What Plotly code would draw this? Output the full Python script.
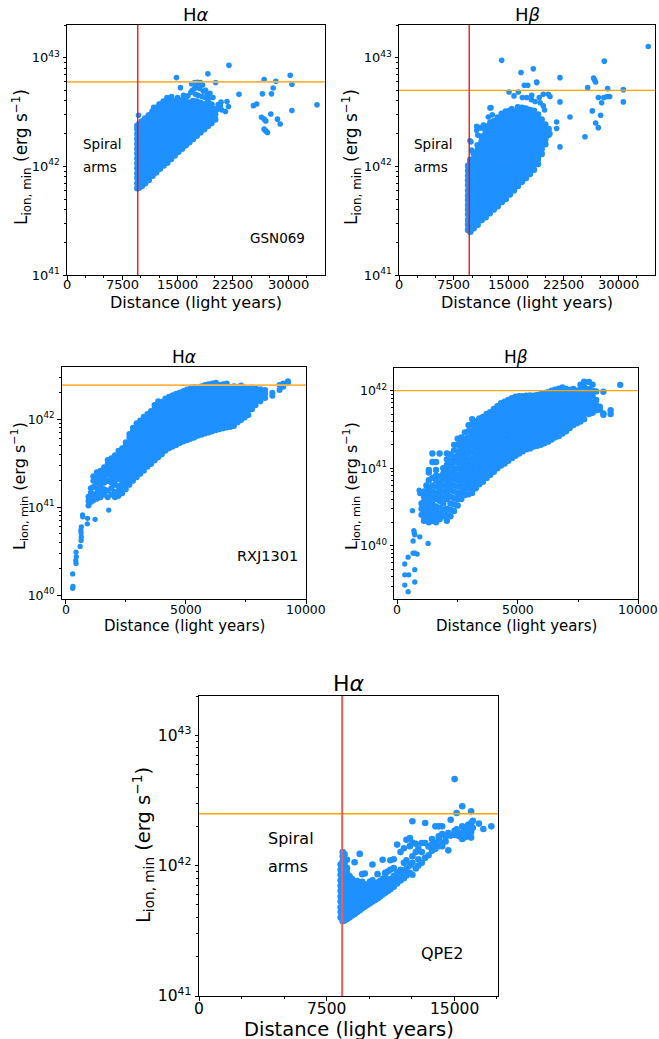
import plotly.graph_objects as go

W, H = 659, 1039
FONT = "DejaVu Sans"
BLUE = "#1E90FF"

# ---------------------------------------------------------------------------
# Data. Distances in light years, luminosities in units of 1e42 erg/s.
# Dense regions are stored column by column (one distance, several values).
# ---------------------------------------------------------------------------

# GSN069, H-alpha
GSN069_HA_COL_X = [9550, 9800, 10150, 10600, 11100, 11600, 12100, 12600, 13100, 13600, 14100, 14600,
                   15100, 15600, 16100, 16600, 17100, 17600, 18100, 18600, 19100, 19600, 20100]
GSN069_HA_COL_L = [
    [0.63, 0.70, 0.78, 0.86, 0.96, 1.06, 1.18, 1.31, 1.45, 1.61, 1.79, 1.98, 2.20, 2.36],
    [0.64, 0.72, 0.80, 0.89, 0.99, 1.10, 1.22, 1.36, 1.51, 1.68, 1.86, 2.07, 2.30, 2.45],
    [0.66, 0.73, 0.81, 0.90, 1.00, 1.11, 1.23, 1.37, 1.52, 1.69, 1.87, 2.08, 2.30, 2.58],
    [0.70, 0.78, 0.86, 0.96, 1.06, 1.18, 1.31, 1.45, 1.61, 1.79, 1.98, 2.20, 2.45, 2.75],
    [0.75, 0.83, 0.92, 1.02, 1.14, 1.26, 1.40, 1.55, 1.72, 1.91, 2.12, 2.36, 2.62, 2.95],
    [0.82, 0.91, 1.01, 1.12, 1.24, 1.38, 1.53, 1.70, 1.89, 2.10, 2.33, 2.58, 2.87, 3.20],
    [0.88, 0.98, 1.09, 1.21, 1.34, 1.49, 1.65, 1.83, 2.03, 2.26, 2.50, 2.78, 3.08, 3.45],
    [0.95, 1.05, 1.17, 1.30, 1.44, 1.60, 1.78, 1.97, 2.19, 2.43, 2.70, 3.00, 3.33, 3.70],
    [1.02, 1.13, 1.26, 1.40, 1.55, 1.72, 1.91, 2.12, 2.35, 2.61, 2.90, 3.22, 3.58, 3.95],
    [1.08, 1.20, 1.33, 1.48, 1.64, 1.82, 2.02, 2.24, 2.49, 2.76, 3.07, 3.40, 3.78, 4.10],
    [1.17, 1.30, 1.44, 1.60, 1.78, 1.97, 2.19, 2.43, 2.70, 3.00, 3.33, 3.70, 4.10],
    [1.26, 1.40, 1.55, 1.72, 1.91, 2.12, 2.35, 2.61, 2.90, 3.22, 3.58, 4.00],
    [1.36, 1.51, 1.68, 1.86, 2.06, 2.29, 2.54, 2.82, 3.13, 3.48, 3.90],
    [1.45, 1.61, 1.79, 1.98, 2.20, 2.44, 2.71, 3.01, 3.34, 3.70, 4.05],
    [1.56, 1.73, 1.92, 2.13, 2.37, 2.63, 2.92, 3.24, 3.60, 4.00],
    [1.67, 1.85, 2.06, 2.28, 2.53, 2.81, 3.12, 3.46, 3.85],
    [1.79, 1.99, 2.20, 2.45, 2.72, 3.02, 3.35, 3.72, 4.00],
    [1.91, 2.12, 2.35, 2.61, 2.90, 3.22, 3.57, 3.95],
    [2.05, 2.28, 2.53, 2.80, 3.11, 3.45, 3.85],
    [2.20, 2.44, 2.71, 3.00, 3.33, 3.70],
    [2.35, 2.60, 2.90, 3.20, 3.55, 3.85],
    [2.50, 2.78, 3.08, 3.42, 3.70],
    [2.70, 3.00, 3.35],
]
GSN069_HA_X = [9700, 11760, 12500, 13570, 14200, 14850, 15000, 15390, 15800, 16400, 16800, 16900,
               17300, 17700, 18100, 17500, 18000, 18500, 17000, 17400, 17800, 18300, 18700, 19000,
               18400, 17900, 17300, 18800, 19200, 19110, 19400, 19800, 20160, 20500, 20300, 20900,
               21000, 21700, 21900, 21500, 20800, 21970, 23330, 25290, 25740, 26380, 26740, 26970,
               26740, 26970, 27200, 26740, 26510, 27650, 28330, 27970, 27740, 28550, 28920, 30280,
               30510, 30510, 33910]
GSN069_HA_L = [2.95, 3.50, 3.75, 4.30, 4.40, 6.56, 4.30, 5.30, 4.50, 4.45, 4.80, 5.75,
               5.90, 5.95, 5.90, 5.50, 5.20, 4.90, 5.00, 4.60, 4.50, 4.40, 4.30, 4.50,
               5.60, 5.40, 5.20, 5.00, 4.20, 7.10, 4.70, 4.30, 5.90, 3.70, 3.30, 3.90,
               3.30, 3.95, 3.55, 3.20, 3.60, 8.50, 4.60, 3.62, 3.75, 2.83, 2.72, 2.62,
               2.20, 2.12, 2.05, 6.30, 4.65, 3.03, 6.07, 5.26, 4.65, 2.72, 2.45, 6.90,
               5.70, 3.26, 3.68]

# GSN069, H-beta
GSN069_HB_COL_X = [9450, 9750, 10200, 10750, 11300, 11850, 12400, 12950, 13500, 14050, 14600,
                   15150, 15700, 16250, 16800, 17350, 17900, 18450, 19000, 19500, 20000, 20450]
GSN069_HB_COL_L = [
    [0.26, 0.29, 0.32, 0.36, 0.40, 0.44, 0.49, 0.54, 0.60, 0.67, 0.74, 0.82, 0.91, 1.01],
    [0.25, 0.28, 0.31, 0.34, 0.38, 0.42, 0.47, 0.52, 0.58, 0.64, 0.71, 0.79, 0.88, 0.98, 1.08, 1.15],
    [0.27, 0.30, 0.33, 0.37, 0.41, 0.46, 0.51, 0.56, 0.63, 0.69, 0.77, 0.86, 0.95, 1.05, 1.17, 1.32],
    [0.29, 0.32, 0.36, 0.40, 0.44, 0.49, 0.55, 0.61, 0.67, 0.75, 0.83, 0.92, 1.02, 1.13, 1.26, 1.40, 1.56],
    [0.32, 0.35, 0.39, 0.44, 0.48, 0.54, 0.60, 0.66, 0.74, 0.82, 0.91, 1.01, 1.12, 1.24, 1.38, 1.53,
     1.70, 1.88],
    [0.34, 0.38, 0.42, 0.46, 0.52, 0.57, 0.63, 0.70, 0.78, 0.87, 0.96, 1.07, 1.19, 1.32, 1.46, 1.62,
     1.80, 2.00, 2.15],
    [0.37, 0.41, 0.45, 0.50, 0.56, 0.62, 0.69, 0.76, 0.85, 0.94, 1.04, 1.16, 1.29, 1.43, 1.58, 1.76,
     1.95, 2.17, 2.40],
    [0.40, 0.44, 0.49, 0.54, 0.60, 0.67, 0.74, 0.82, 0.91, 1.01, 1.12, 1.25, 1.38, 1.54, 1.70, 1.89,
     2.10, 2.33, 2.60],
    [0.43, 0.48, 0.53, 0.59, 0.65, 0.72, 0.80, 0.89, 0.99, 1.10, 1.22, 1.35, 1.50, 1.67, 1.85, 2.05,
     2.28, 2.53, 2.82],
    [0.47, 0.52, 0.58, 0.64, 0.71, 0.79, 0.88, 0.97, 1.08, 1.20, 1.33, 1.48, 1.64, 1.82, 2.02, 2.24,
     2.49, 2.76, 3.05],
    [0.50, 0.56, 0.62, 0.69, 0.76, 0.85, 0.94, 1.04, 1.16, 1.29, 1.43, 1.58, 1.76, 1.95, 2.17, 2.40,
     2.67, 2.96, 3.20],
    [0.55, 0.61, 0.68, 0.75, 0.83, 0.92, 1.03, 1.14, 1.26, 1.40, 1.56, 1.73, 1.92, 2.13, 2.36, 2.62,
     2.91, 3.25],
    [0.60, 0.67, 0.74, 0.82, 0.91, 1.01, 1.12, 1.25, 1.38, 1.54, 1.71, 1.89, 2.10, 2.33, 2.59, 2.87, 3.20],
    [0.66, 0.73, 0.81, 0.90, 1.00, 1.11, 1.23, 1.37, 1.52, 1.68, 1.87, 2.08, 2.30, 2.56, 2.84, 3.15, 3.50],
    [0.72, 0.80, 0.89, 0.98, 1.09, 1.21, 1.35, 1.49, 1.66, 1.84, 2.04, 2.27, 2.52, 2.79, 3.10, 3.45],
    [0.78, 0.87, 0.96, 1.07, 1.19, 1.32, 1.46, 1.62, 1.80, 2.00, 2.22, 2.47, 2.74, 3.04, 3.40],
    [0.85, 0.94, 1.05, 1.16, 1.29, 1.43, 1.59, 1.77, 1.96, 2.18, 2.42, 2.68, 2.98, 3.30],
    [0.93, 1.03, 1.15, 1.27, 1.41, 1.57, 1.74, 1.93, 2.14, 2.38, 2.64, 2.93, 3.25],
    [1.05, 1.17, 1.30, 1.44, 1.60, 1.78, 1.97, 2.19, 2.43, 2.70, 3.00],
    [1.30, 1.44, 1.60, 1.78, 1.97, 2.19, 2.43, 2.70],
    [1.60, 1.78, 1.97, 2.19, 2.43],
    [1.95, 2.20],
]
GSN069_HB_X = [9706, 9843, 9940, 10617, 11200, 11528, 11985, 12440, 10620, 10757, 11074, 11662,
               12213, 12440, 12576, 12760, 14041, 14724, 15408, 15040, 16316, 15723, 16860, 17460,
               18140, 17133, 17590, 18822, 16680, 18363, 19180, 19730, 18819, 18100, 18600, 19300,
               19730, 19900, 20414, 20642, 20642, 21553, 21553, 22009, 22009, 22009, 23376, 25426,
               25791, 26429, 26600, 26750, 26880, 26885, 27248, 27567, 28069, 27250, 27700, 28000,
               28450, 28800, 28524, 30666, 30666, 34084]
GSN069_HB_L = [1.72, 1.68, 1.41, 2.34, 2.25, 2.40, 2.28, 2.56, 2.15, 1.94, 2.28, 2.39,
               2.85, 3.45, 3.47, 2.98, 9.45, 3.17, 3.40, 4.83, 4.83, 4.45, 4.30, 4.30,
               4.50, 5.57, 5.57, 5.90, 7.30, 7.90, 4.30, 4.60, 5.97, 4.10, 3.95, 3.85,
               3.60, 3.30, 4.60, 4.40, 2.00, 2.56, 2.23, 6.55, 3.92, 1.51, 2.85, 1.87,
               5.30, 3.24, 6.50, 6.20, 5.97, 2.51, 2.27, 2.95, 9.30, 4.30, 3.84, 4.30,
               4.40, 4.40, 5.19, 5.08, 3.92, 12.70]

# RXJ1301, H-alpha
RXJ1301_HA_COL_X = [950, 1050, 1150, 1300, 1450, 1600, 1750, 1900, 2050, 2200, 2350, 2500, 2650,
                    2800, 2950, 3100, 3250, 3400, 3550, 3700, 3850, 4000, 4150, 4300, 4450, 4600,
                    4750, 4900, 5050, 5200, 5350, 5500, 5650, 5800, 5950, 6100, 6250, 6400, 6550,
                    6700, 6850, 7000, 7150, 7300, 7450, 7600, 7750, 7900, 8100, 8300, 8600, 8900,
                    9050, 9250]
RXJ1301_HA_COL_L = [
    [0.105, 0.118, 0.132],
    [0.115, 0.130, 0.146, 0.165],
    [0.120, 0.140, 0.170, 0.200, 0.225],
    [0.125, 0.145, 0.165, 0.190, 0.215, 0.250],
    [0.130, 0.150, 0.175, 0.200, 0.230, 0.260],
    [0.140, 0.160, 0.190, 0.220, 0.250, 0.285],
    [0.130, 0.155, 0.200, 0.235, 0.270, 0.310, 0.345],
    [0.140, 0.165, 0.190, 0.215, 0.245, 0.280, 0.320, 0.360],
    [0.130, 0.150, 0.180, 0.200, 0.230, 0.260, 0.300, 0.340, 0.390],
    [0.135, 0.155, 0.175, 0.210, 0.240, 0.270, 0.310, 0.350, 0.400, 0.440],
    [0.145, 0.165, 0.190, 0.220, 0.250, 0.280, 0.320, 0.360, 0.410, 0.470],
    [0.160, 0.180, 0.205, 0.230, 0.260, 0.300, 0.340, 0.390, 0.440, 0.500, 0.550],
    [0.180, 0.200, 0.230, 0.260, 0.290, 0.330, 0.380, 0.430, 0.480, 0.540, 0.620, 0.680],
    [0.200, 0.225, 0.250, 0.280, 0.320, 0.360, 0.410, 0.460, 0.520, 0.580, 0.660, 0.740, 0.800],
    [0.220, 0.250, 0.280, 0.310, 0.350, 0.400, 0.450, 0.500, 0.570, 0.640, 0.720, 0.810, 0.900],
    [0.240, 0.270, 0.300, 0.340, 0.380, 0.430, 0.480, 0.540, 0.610, 0.680, 0.770, 0.860, 0.970],
    [0.260, 0.290, 0.330, 0.370, 0.420, 0.470, 0.530, 0.600, 0.670, 0.750, 0.840, 0.950, 1.070],
    [0.290, 0.320, 0.360, 0.400, 0.450, 0.510, 0.570, 0.640, 0.720, 0.810, 0.910, 1.020, 1.150],
    [0.310, 0.350, 0.390, 0.440, 0.490, 0.550, 0.620, 0.700, 0.780, 0.880, 0.990, 1.100, 1.240],
    [0.340, 0.380, 0.420, 0.470, 0.530, 0.600, 0.670, 0.750, 0.840, 0.950, 1.060, 1.190, 1.330, 1.450],
    [0.370, 0.410, 0.460, 0.520, 0.580, 0.650, 0.730, 0.820, 0.920, 1.030, 1.160, 1.300, 1.460, 1.600],
    [0.400, 0.450, 0.500, 0.560, 0.630, 0.710, 0.790, 0.890, 1.000, 1.120, 1.260, 1.410, 1.580],
    [0.440, 0.490, 0.550, 0.620, 0.690, 0.780, 0.870, 0.980, 1.100, 1.230, 1.380, 1.550, 1.720],
    [0.470, 0.530, 0.590, 0.660, 0.740, 0.830, 0.930, 1.050, 1.170, 1.310, 1.470, 1.650, 1.800],
    [0.490, 0.550, 0.620, 0.690, 0.780, 0.870, 0.980, 1.100, 1.230, 1.380, 1.550, 1.730, 1.880],
    [0.510, 0.570, 0.640, 0.720, 0.810, 0.910, 1.020, 1.140, 1.280, 1.440, 1.610, 1.800, 1.950],
    [0.540, 0.600, 0.670, 0.750, 0.840, 0.950, 1.060, 1.190, 1.340, 1.500, 1.680, 1.880, 2.020],
    [0.560, 0.630, 0.700, 0.790, 0.880, 0.990, 1.110, 1.250, 1.400, 1.570, 1.760, 1.970, 2.100],
    [0.580, 0.650, 0.730, 0.820, 0.920, 1.030, 1.160, 1.300, 1.460, 1.630, 1.830, 2.050, 2.180],
    [0.600, 0.670, 0.760, 0.850, 0.950, 1.070, 1.200, 1.340, 1.510, 1.690, 1.900, 2.120, 2.250],
    [0.620, 0.700, 0.780, 0.880, 0.980, 1.100, 1.240, 1.390, 1.560, 1.750, 1.960, 2.200, 2.320],
    [0.650, 0.730, 0.820, 0.920, 1.030, 1.150, 1.290, 1.450, 1.630, 1.830, 2.050, 2.300],
    [0.670, 0.750, 0.840, 0.940, 1.060, 1.190, 1.330, 1.490, 1.680, 1.880, 2.110, 2.370],
    [0.690, 0.770, 0.870, 0.970, 1.090, 1.220, 1.370, 1.540, 1.730, 1.940, 2.180, 2.450],
    [0.710, 0.800, 0.890, 1.000, 1.120, 1.260, 1.410, 1.580, 1.780, 2.000, 2.240, 2.500],
    [0.730, 0.820, 0.920, 1.030, 1.160, 1.300, 1.460, 1.630, 1.830, 2.060, 2.310, 2.550],
    [0.750, 0.840, 0.940, 1.060, 1.190, 1.330, 1.500, 1.680, 1.880, 2.110, 2.370, 2.600],
    [0.770, 0.860, 0.970, 1.090, 1.220, 1.370, 1.540, 1.720, 1.930, 2.170, 2.450],
    [0.790, 0.890, 1.000, 1.120, 1.260, 1.410, 1.580, 1.770, 1.990, 2.230, 2.500],
    [0.810, 0.910, 1.020, 1.140, 1.280, 1.440, 1.620, 1.810, 2.030, 2.280, 2.550],
    [0.820, 0.920, 1.040, 1.160, 1.310, 1.470, 1.650, 1.850, 2.070, 2.320],
    [0.840, 0.950, 1.060, 1.190, 1.340, 1.500, 1.690, 1.890, 2.120, 2.380],
    [0.920, 1.030, 1.160, 1.300, 1.460, 1.640, 1.840, 2.060, 2.310],
    [0.980, 1.100, 1.240, 1.390, 1.560, 1.750, 1.960, 2.200, 2.420],
    [1.050, 1.180, 1.320, 1.480, 1.660, 1.870, 2.090, 2.300],
    [1.120, 1.260, 1.410, 1.580, 1.780, 1.990, 2.220],
    [1.300, 1.460, 1.640, 1.840, 2.060, 2.300],
    [1.450, 1.630, 1.830, 2.050, 2.250],
    [1.600, 1.800, 2.000, 2.200],
    [1.750, 1.950, 2.150],
    [1.850, 2.000],
    [2.150, 2.450],
    [2.350, 2.550],
    [2.600, 2.700],
]
RXJ1301_HA_X = [290, 300, 290, 430, 420, 440, 430, 600, 640, 650, 640, 630, 650, 710, 700, 900, 910,
                1221, 1790]
RXJ1301_HA_L = [0.0120, 0.0126, 0.0175, 0.023, 0.025, 0.0275, 0.031, 0.036, 0.042, 0.046, 0.051,
                0.055, 0.060, 0.078, 0.082, 0.065, 0.075, 0.073, 0.093]

# RXJ1301, H-beta
RXJ1301_HB_COL_X = [1000, 1100, 1200, 1300, 1450, 1600, 1750, 1900, 2050, 2200, 2350, 2500, 2650,
                    2800, 2950, 3100, 3250, 3400, 3550, 3700, 3850, 4000, 4150, 4300, 4450, 4600,
                    4750, 4900, 5050, 5200, 5350, 5500, 5650, 5800, 5950, 6100, 6250, 6400, 6550,
                    6700, 6850, 7000, 7150, 7300, 7450, 7600, 7750, 7950, 8100, 8250, 8400, 8550,
                    8850, 9250]
RXJ1301_HB_COL_L = [
    [0.025, 0.030, 0.035],
    [0.021, 0.024, 0.028, 0.032, 0.037, 0.043, 0.050],
    [0.022, 0.026, 0.030, 0.036, 0.042, 0.050, 0.060],
    [0.020, 0.024, 0.028, 0.034, 0.040, 0.047, 0.055, 0.070, 0.088, 0.095],
    [0.021, 0.025, 0.030, 0.035, 0.042, 0.050, 0.060, 0.075, 0.120, 0.155],
    [0.020, 0.023, 0.027, 0.032, 0.040, 0.048, 0.058, 0.070, 0.080, 0.095, 0.120],
    [0.022, 0.026, 0.031, 0.038, 0.045, 0.054, 0.065, 0.078, 0.155],
    [0.024, 0.029, 0.035, 0.042, 0.050, 0.060, 0.072, 0.085, 0.100],
    [0.021, 0.025, 0.030, 0.040, 0.048, 0.057, 0.068, 0.080, 0.095, 0.110, 0.130, 0.155],
    [0.024, 0.029, 0.035, 0.043, 0.052, 0.062, 0.074, 0.088, 0.105, 0.125, 0.150],
    [0.028, 0.034, 0.041, 0.050, 0.060, 0.072, 0.086, 0.100, 0.120, 0.140, 0.170, 0.200],
    [0.033, 0.040, 0.048, 0.058, 0.070, 0.083, 0.100, 0.120, 0.140, 0.165, 0.200, 0.240],
    [0.040, 0.047, 0.056, 0.066, 0.078, 0.093, 0.110, 0.130, 0.155, 0.180, 0.210, 0.250],
    [0.045, 0.053, 0.063, 0.075, 0.088, 0.104, 0.123, 0.145, 0.170, 0.200, 0.240, 0.290],
    [0.046, 0.055, 0.065, 0.077, 0.092, 0.110, 0.130, 0.155, 0.180, 0.210, 0.250, 0.300, 0.360],
    [0.048, 0.057, 0.068, 0.080, 0.095, 0.113, 0.134, 0.160, 0.190, 0.220, 0.260, 0.310, 0.370, 0.430],
    [0.055, 0.065, 0.077, 0.091, 0.108, 0.128, 0.150, 0.180, 0.210, 0.250, 0.290, 0.340, 0.400],
    [0.062, 0.073, 0.086, 0.100, 0.120, 0.140, 0.165, 0.195, 0.230, 0.270, 0.310, 0.370, 0.440],
    [0.067, 0.079, 0.093, 0.110, 0.130, 0.152, 0.180, 0.210, 0.250, 0.290, 0.340, 0.400, 0.460],
    [0.075, 0.088, 0.104, 0.122, 0.144, 0.170, 0.200, 0.235, 0.275, 0.320, 0.380, 0.450, 0.500],
    [0.082, 0.097, 0.114, 0.134, 0.158, 0.186, 0.220, 0.260, 0.300, 0.350, 0.410, 0.480, 0.530],
    [0.090, 0.106, 0.125, 0.147, 0.173, 0.200, 0.240, 0.280, 0.330, 0.380, 0.450, 0.520, 0.580],
    [0.100, 0.117, 0.137, 0.160, 0.190, 0.220, 0.260, 0.300, 0.350, 0.410, 0.480, 0.560, 0.630],
    [0.108, 0.127, 0.149, 0.175, 0.205, 0.240, 0.280, 0.330, 0.390, 0.450, 0.530, 0.620, 0.690],
    [0.115, 0.135, 0.158, 0.185, 0.215, 0.250, 0.300, 0.350, 0.410, 0.480, 0.560, 0.650, 0.720],
    [0.125, 0.146, 0.170, 0.200, 0.235, 0.275, 0.320, 0.370, 0.440, 0.510, 0.600, 0.700, 0.760],
    [0.135, 0.158, 0.185, 0.215, 0.250, 0.290, 0.340, 0.400, 0.470, 0.550, 0.640, 0.740, 0.800],
    [0.145, 0.170, 0.200, 0.230, 0.270, 0.310, 0.360, 0.420, 0.490, 0.570, 0.670, 0.780, 0.840],
    [0.155, 0.180, 0.210, 0.245, 0.285, 0.330, 0.380, 0.440, 0.510, 0.600, 0.700, 0.800, 0.850],
    [0.165, 0.190, 0.220, 0.255, 0.300, 0.350, 0.400, 0.470, 0.550, 0.640, 0.740, 0.850],
    [0.175, 0.200, 0.235, 0.270, 0.315, 0.370, 0.430, 0.500, 0.580, 0.670, 0.780, 0.860],
    [0.180, 0.210, 0.245, 0.285, 0.330, 0.385, 0.450, 0.520, 0.600, 0.700, 0.800, 0.870],
    [0.190, 0.220, 0.255, 0.300, 0.350, 0.405, 0.470, 0.550, 0.640, 0.740, 0.860],
    [0.195, 0.225, 0.265, 0.310, 0.360, 0.420, 0.490, 0.570, 0.660, 0.760, 0.880],
    [0.200, 0.235, 0.275, 0.320, 0.370, 0.430, 0.500, 0.580, 0.680, 0.790, 0.900],
    [0.210, 0.245, 0.285, 0.330, 0.385, 0.450, 0.520, 0.610, 0.710, 0.820, 0.930],
    [0.220, 0.255, 0.300, 0.350, 0.405, 0.470, 0.550, 0.640, 0.740, 0.860, 0.960],
    [0.235, 0.275, 0.320, 0.370, 0.430, 0.500, 0.580, 0.670, 0.780, 0.900, 1.000],
    [0.250, 0.290, 0.335, 0.390, 0.450, 0.520, 0.610, 0.700, 0.810, 0.940, 1.030],
    [0.260, 0.300, 0.350, 0.410, 0.470, 0.550, 0.630, 0.730, 0.850, 0.970, 1.060],
    [0.280, 0.320, 0.370, 0.430, 0.500, 0.580, 0.670, 0.770, 0.890, 1.020, 1.100],
    [0.300, 0.350, 0.400, 0.460, 0.530, 0.610, 0.710, 0.820, 0.940, 1.050],
    [0.330, 0.380, 0.440, 0.510, 0.590, 0.680, 0.780, 0.900, 1.020],
    [0.360, 0.410, 0.470, 0.540, 0.620, 0.710, 0.820, 0.940, 1.050],
    [0.380, 0.440, 0.500, 0.580, 0.660, 0.760, 0.870, 1.000],
    [0.400, 0.460, 0.530, 0.610, 0.700, 0.800, 0.920, 1.050, 1.200],
    [0.430, 0.500, 0.570, 0.650, 0.750, 0.860, 0.980, 1.120, 1.310],
    [0.500, 0.580, 0.670, 0.780, 0.900, 1.050, 1.300],
    [0.520, 0.600, 0.700, 0.850, 1.000, 1.200],
    [0.560, 0.650, 0.760, 0.980],
    [0.570, 0.620],
    [0.490, 0.510, 0.970],
    [0.500, 0.560],
    [1.190],
]
RXJ1301_HB_X = [303, 303, 303, 441, 469, 441, 649, 718, 815, 621, 680, 700, 718, 649, 718, 718, 925,
                1271, 898, 925]
RXJ1301_HB_L = [0.0058, 0.0042, 0.0031, 0.00255, 0.0042, 0.0071, 0.0080, 0.0080, 0.0078, 0.0283,
                0.0156, 0.0145, 0.0138, 0.0115, 0.0049, 0.0034, 0.0130, 0.0107, 0.0520, 0.0470]

# QPE2, H-alpha
QPE2_HA_COL_X = [8330, 8450, 8560, 8700, 8850, 9000, 9150, 9300, 9450, 9600, 9750, 9900, 10050,
                 10200, 10350, 10500, 10650, 10800, 10950, 11100, 11250, 11450, 11650, 11850, 12050,
                 12200, 12400, 12550, 12750, 12900, 13100, 13300, 13500, 13700, 13900, 14100, 14300,
                 14500, 14660, 14800, 15030, 15150, 15300, 15480, 15650, 15830, 16000, 16100, 16460,
                 16720, 17190]
QPE2_HA_COL_L = [
    [0.40, 0.44, 0.48, 0.53, 0.58, 0.64, 0.70, 0.77, 0.85, 0.93, 1.02],
    [0.375, 0.41, 0.45, 0.49, 0.54, 0.59, 0.64, 0.70, 0.76, 0.83, 0.91, 0.99, 1.08, 1.18, 1.27],
    [0.38, 0.415, 0.455, 0.50, 0.55, 0.60, 0.66, 0.72, 0.79, 0.86, 0.94, 1.03, 1.12, 1.22],
    [0.39, 0.425, 0.465, 0.51, 0.56, 0.61, 0.67, 0.73, 0.80, 0.88, 0.96, 1.11],
    [0.40, 0.44, 0.48, 0.525, 0.575, 0.63, 0.69, 0.76, 0.83],
    [0.415, 0.455, 0.50, 0.545, 0.60, 0.66, 0.72, 0.79],
    [0.425, 0.465, 0.51, 0.56, 0.61, 0.67, 0.74, 1.06],
    [0.44, 0.48, 0.525, 0.575, 0.63, 0.69, 0.76],
    [0.455, 0.50, 0.545, 0.60, 0.655, 0.72, 1.23],
    [0.47, 0.515, 0.565, 0.62, 0.68, 0.75, 0.86],
    [0.485, 0.53, 0.58, 0.635, 0.70, 0.87],
    [0.50, 0.55, 0.60, 0.66, 0.72],
    [0.515, 0.565, 0.62, 0.68, 0.75],
    [0.53, 0.58, 0.64, 0.70, 0.77, 1.02],
    [0.545, 0.60, 0.66, 0.72],
    [0.56, 0.615, 0.675, 0.74, 0.86],
    [0.58, 0.635, 0.695, 0.76],
    [0.60, 0.655, 0.72, 0.79, 1.11],
    [0.62, 0.68, 0.745, 0.82, 0.88],
    [0.64, 0.70, 0.77, 0.90],
    [0.66, 0.72, 0.79, 0.93, 1.10],
    [0.69, 0.76, 0.83, 0.96, 1.12],
    [0.73, 0.80, 0.89, 1.45],
    [0.77, 0.85, 0.93, 1.27],
    [0.80, 0.88, 1.05, 1.36],
    [0.84, 0.95, 1.10, 1.58],
    [0.88, 1.00, 1.41, 1.63],
    [0.85, 1.05, 1.18, 1.50, 2.19],
    [0.95, 1.27, 1.47],
    [1.00, 1.12, 1.35],
    [1.05, 1.27, 1.49],
    [1.15, 1.49, 2.12],
    [1.20, 1.40],
    [1.30, 1.45, 1.60],
    [1.35, 1.49, 2.00],
    [1.41, 1.60, 1.68, 2.00],
    [1.41, 1.50, 1.75, 2.00],
    [1.53, 1.65],
    [1.31, 1.78],
    [1.70, 2.25],
    [1.72, 1.85, 4.61],
    [1.90, 2.53],
    [1.68, 1.78],
    [1.60, 1.80, 2.00, 2.85],
    [1.65, 1.73, 1.95],
    [1.70, 1.89, 2.06],
    [1.64, 1.80, 2.12, 2.61],
    [1.95, 2.21],
    [2.10],
    [1.91],
    [2.00],
]

# Minimum ionising luminosity thresholds (erg/s) and spiral-arm radii (light years)
GSN069_HA_LMAX = 6.0e42
GSN069_HB_LMAX = 5.0e42
RXJ1301_HA_LMAX = 2.45e42
RXJ1301_HB_LMAX = 1.0e42
QPE2_HA_LMAX = 2.5e42
GSN069_ARM_LY = 9600
QPE2_ARM_LY = 8420

X_TICKS_WIDE = [0, 7500, 15000, 22500, 30000]
X_TICKS_RXJ = [0, 5000, 10000]
X_TICKS_QPE = [0, 7500, 15000]


def columns(cols_x, cols_l):
    xs, ls = [], []
    for x, col in zip(cols_x, cols_l):
        for v in col:
            xs.append(x)
            ls.append(v * 1e42)
    return xs, ls


def scattered(xs, vals):
    return list(xs), [v * 1e42 for v in vals]


def fx(px):
    return px / W


def fy(px):
    return 1 - px / H


def log_minor(lo_exp, hi_exp, top):
    vals = []
    for e in range(lo_exp, hi_exp + 1):
        for k in range(2, 10):
            v = k * 10.0 ** e
            if v <= top:
                vals.append(v)
    return vals


# box = (left, right, top, bottom) of each plotting area in pixels; xl = tick-label row (px)
PANELS = [
    dict(dense=columns(GSN069_HA_COL_X, GSN069_HA_COL_L), sparse=scattered(GSN069_HA_X, GSN069_HA_L),
         box=(67, 325, 25, 275), xl=284.5, xr=[0, 35000], yr=[41.0, 43.301],
         xt=X_TICKS_WIDE, xm=[2500, 5000, 10000, 12500, 17500, 20000, 25000, 27500, 32500],
         ye=[41, 42, 43], ym=log_minor(41, 43, 2e43), fs=13, ms=(6.6, 5.6),
         lmax=GSN069_HA_LMAX, lcol="#FFB347", lw=1.8, arm=GSN069_ARM_LY, armcol="red", armw=1.3),
    dict(dense=columns(GSN069_HB_COL_X, GSN069_HB_COL_L), sparse=scattered(GSN069_HB_X, GSN069_HB_L),
         box=(399, 655, 25, 275), xl=284.5, xr=[0, 35000], yr=[41.0, 43.301],
         xt=X_TICKS_WIDE, xm=[2500, 5000, 10000, 12500, 17500, 20000, 25000, 27500, 32500],
         ye=[41, 42, 43], ym=log_minor(41, 43, 2e43), fs=13, ms=(6.6, 5.6),
         lmax=GSN069_HB_LMAX, lcol="#FFA500", lw=1.2, arm=GSN069_ARM_LY, armcol="red", armw=1.3),
    dict(dense=columns(RXJ1301_HA_COL_X, RXJ1301_HA_COL_L), sparse=scattered(RXJ1301_HA_X, RXJ1301_HA_L),
         box=(61.7, 306, 366.7, 599.3), xl=609, xr=[-167, 10000], yr=[39.955, 42.598],
         xt=X_TICKS_RXJ, xm=[2500, 7500],
         ye=[40, 41, 42], ym=log_minor(39, 42, 4e42), fs=12.5, ms=(6.1, 5.3),
         lmax=RXJ1301_HA_LMAX, lcol="#FFB347", lw=1.8, arm=None),
    dict(dense=columns(RXJ1301_HB_COL_X, RXJ1301_HB_COL_L), sparse=scattered(RXJ1301_HB_X, RXJ1301_HB_L),
         box=(394, 638.3, 367.7, 599.3), xl=609, xr=[-145, 10000], yr=[39.308, 42.297],
         xt=X_TICKS_RXJ, xm=[2500, 7500],
         ye=[40, 41, 42], ym=log_minor(39, 42, 2e42), fs=12.5, ms=(6.4, 5.3),
         lmax=RXJ1301_HB_LMAX, lcol="#FFA500", lw=1.2, arm=None),
    dict(dense=columns(QPE2_HA_COL_X, QPE2_HA_COL_L), sparse=([], []),
         box=(199, 498.3, 696, 996), xl=1009, xr=[0, 17600], yr=[41.0, 43.301],
         xt=X_TICKS_QPE, xm=[2500, 5000, 10000, 12500, 17500],
         ye=[41, 42, 43], ym=log_minor(41, 43, 2e43), fs=15.5, ms=(6.6, 6.6),
         lmax=QPE2_HA_LMAX, lcol="#FFA500", lw=1.4, arm=QPE2_ARM_LY, armcol="#F25C5C", armw=2.0),
]

fig = go.Figure()
layout = dict(
    width=W, height=H, margin=dict(l=0, r=0, t=0, b=0, autoexpand=False),
    paper_bgcolor="white", plot_bgcolor="white", showlegend=False,
    font=dict(family=FONT, color="black"),
)
annotations = []

for i, p in enumerate(PANELS):
    n = "" if i == 0 else str(i + 1)
    xa, ya = "x" + n, "y" + n
    x0, x1, y0, y1 = p["box"]
    for (xs, ls), size in ((p["dense"], p["ms"][0]), (p["sparse"], p["ms"][1])):
        if not xs:
            continue
        fig.add_trace(go.Scatter(
            x=xs, y=ls, mode="markers", xaxis=xa, yaxis=ya,
            marker=dict(color=BLUE, size=size, line=dict(width=0)),
            hoverinfo="skip",
        ))
    fig.add_trace(go.Scatter(
        x=p["xr"], y=[p["lmax"], p["lmax"]], mode="lines", xaxis=xa, yaxis=ya,
        line=dict(color=p["lcol"], width=p["lw"]), hoverinfo="skip",
    ))
    if p["arm"] is not None:
        fig.add_trace(go.Scatter(
            x=[p["arm"], p["arm"]], y=[10.0 ** p["yr"][0], 10.0 ** p["yr"][1]], mode="lines",
            xaxis=xa, yaxis=ya, line=dict(color=p["armcol"], width=p["armw"]), hoverinfo="skip",
        ))

    common = dict(
        showline=True, linecolor="black", linewidth=1, mirror=True,
        ticks="outside", ticklen=3.5, tickwidth=1, tickcolor="black",
        showgrid=False, zeroline=False, automargin=False,
        tickfont=dict(family=FONT, size=p["fs"], color="black"),
    )
    # x tick labels are placed as annotations so their row sits as close to the axis as in matplotlib
    layout["xaxis" + n] = dict(
        common, domain=[fx(x0), fx(x1)], anchor=ya, range=p["xr"],
        tickmode="array", tickvals=p["xt"], showticklabels=False,
        minor=dict(tickmode="array", tickvals=p["xm"], ticks="outside", ticklen=2,
                   tickwidth=0.8, tickcolor="black", showgrid=False),
    )
    for v in p["xt"]:
        annotations.append(dict(
            text=str(v), x=v, xref=xa, y=fy(p["xl"]), yref="paper",
            xanchor="center", yanchor="middle", showarrow=False,
            font=dict(family=FONT, size=p["fs"], color="black"),
        ))
    layout["yaxis" + n] = dict(
        common, domain=[fy(y1), fy(y0)], anchor=xa, type="log", range=p["yr"],
        tickmode="array", tickvals=[10.0 ** e for e in p["ye"]],
        ticktext=["10<sup>%d</sup>" % e for e in p["ye"]],
        minor=dict(tickmode="array", tickvals=p["ym"], ticks="outside", ticklen=2,
                   tickwidth=0.8, tickcolor="black", showgrid=False),
    )

HA = "H<i>α</i>"
HB = "H<i>β</i>"
YLAB = "L<sub>ion, min</sub> (erg s<sup>−1</sup>)"
XLAB = "Distance (light years)"


def label(text, x, y, size, xanchor="center", angle=0):
    return dict(text=text, x=fx(x), y=fy(y), xref="paper", yref="paper",
                xanchor=xanchor, yanchor="middle", showarrow=False, textangle=angle,
                font=dict(family=FONT, size=size, color="black"))


annotations += [
    # panel titles
    label(HA, 196, 15, 18), label(HB, 527, 15, 18),
    label(HA, 184, 357, 17), label(HB, 516, 357, 17),
    label(HA, 349, 683, 22),
    # x axis titles
    label(XLAB, 196, 302.5, 16), label(XLAB, 527, 302.5, 16),
    label(XLAB, 184, 626, 15), label(XLAB, 516, 626, 15),
    label(XLAB, 349, 1029.5, 19.5),
    # y axis titles
    label(YLAB, 21, 157, 17, angle=-90), label(YLAB, 351, 157, 17, angle=-90),
    label(YLAB, 19, 486, 16, angle=-90), label(YLAB, 351, 486, 16, angle=-90),
    label(YLAB, 143, 845, 19.5, angle=-90),
    # in-panel notes
    label("Spiral", 81, 144, 13.5, "left"), label("arms", 81, 167, 13.5, "left"),
    label("Spiral", 412, 144, 13.5, "left"), label("arms", 412, 167, 13.5, "left"),
    label("GSN069", 248, 238, 13.5, "left"),
    label("RXJ1301", 235, 556, 14.5, "left"),
    label("Spiral", 266, 838, 16, "left"), label("arms", 266, 866, 16, "left"),
    label("QPE2", 419, 953, 16, "left"),
]
layout["annotations"] = annotations
fig.update_layout(**layout)

fig.write_html("out.html")
